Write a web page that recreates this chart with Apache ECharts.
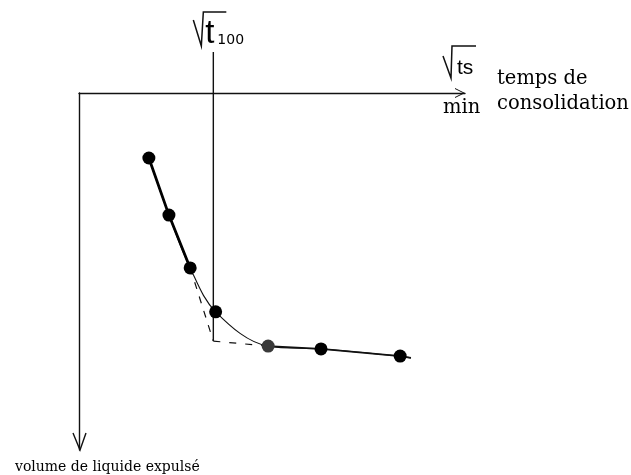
<!DOCTYPE html>
<html>
<head>
<meta charset="utf-8">
<script src="https://cdn.jsdelivr.net/npm/echarts@6/dist/echarts.min.js"></script>
<style>
  html, body { margin: 0; padding: 0; background: #fff; }
  #chart { width: 631px; height: 475px; }
</style>
</head>
<body>
<div id="chart"></div>
<script>
// Consolidation curve: expelled liquid volume against the square root of time
const sqrtTime = [1.81, 2.33, 2.88, 3.54, 4.90, 6.27, 8.32];   // √t readings
const volume   = [1.82, 3.42, 4.90, 6.13, 7.09, 7.17, 7.37];   // expelled volume
const curveTail = [8.60, 7.42];     // the hand-drawn curve runs a little past the last reading
const sqrtT100 = 3.48;              // √t100
const v100 = 6.95;                  // meeting point of the tangent and the final slope
const t100LineTop = -1.15;          // √t100 line rises above the time axis

// Text
const timeRoot = 'ts';
const timeUnit = 'min';
const timeTitle = ['temps de', 'consolidation'];
const volumeTitle = 'volume de liquide expulsé';
const t100Root = 't';
const t100Index = '100';

const INK = '#111';
const chart = echarts.init(document.getElementById('chart'), null, { renderer: 'canvas' });

const points = sqrtTime.map((x, i) => [x, volume[i]]);
const chevron = 'path://M0,20 L10,0 L20,20 L18,20 L10,4 L2,20 Z';

const option = {
  animation: false,
  backgroundColor: '#fff',
  grid: { left: 79, right: 166, top: 93, bottom: 25 },
  xAxis: {
    type: 'value', position: 'top', min: 0, max: 10,
    axisLine: {
      show: true, onZero: false,
      lineStyle: { color: INK, width: 1.4 },
      symbol: ['none', chevron], symbolSize: [13, 10], symbolOffset: [0, -5]
    },
    axisTick: { show: false }, axisLabel: { show: false }, splitLine: { show: false }
  },
  yAxis: {
    type: 'value', inverse: true, min: 0, max: 10,
    axisLine: { show: true, onZero: false, lineStyle: { color: INK, width: 1.4 } },
    axisTick: { show: false }, axisLabel: { show: false }, splitLine: { show: false }
  },
  series: [
    { // smooth curve through every reading
      type: 'line', smooth: 0.35, symbol: 'none',
      lineStyle: { color: INK, width: 1.1 },
      data: points.concat([curveTail])
    },
    { // steep initial straight part
      type: 'line', symbol: 'none',
      lineStyle: { color: '#000', width: 2.8 },
      data: points.slice(0, 3)
    },
    { // final slope
      type: 'line', symbol: 'none',
      lineStyle: { color: INK, width: 1.8 },
      data: points.slice(4).concat([curveTail])
    },
    { // tangent prolonged down to √t100
      type: 'line', symbol: 'none',
      lineStyle: { color: INK, width: 1.2, type: [7, 8] },
      data: [points[2], [sqrtT100, v100]]
    },
    { // final slope prolonged back to √t100
      type: 'line', symbol: 'none',
      lineStyle: { color: INK, width: 1.2, type: [7, 9] },
      data: [[sqrtT100, v100], points[4]]
    },
    { // √t100 vertical
      type: 'line', symbol: 'none', clip: false,
      lineStyle: { color: INK, width: 1.4 },
      data: [[sqrtT100, t100LineTop], [sqrtT100, v100]]
    },
    { // readings
      type: 'scatter', symbol: 'circle', symbolSize: 13, z: 5,
      itemStyle: { opacity: 1, color: p => (p.dataIndex === 4 ? '#3a3a3a' : '#000') },
      data: points
    }
  ]
};
chart.setOption(option);

// Labels and the downward arrow of the volume axis
const [lx] = chart.convertToPixel({ gridIndex: 0 }, [sqrtT100, 0]);
const [ax, ay] = chart.convertToPixel({ gridIndex: 0 }, [0, 10]);
const serif = '"DejaVu Serif", serif';
const txt = (text, x, y, font, extra) => Object.assign({
  type: 'text', silent: true,
  style: { text, x, y, font, fill: '#000', textVerticalAlign: 'middle' }
}, extra || {});
const stroke = (pts, w) => ({
  type: 'polyline', silent: true,
  shape: { points: pts },
  style: { stroke: INK, lineWidth: w || 1.5, fill: null }
});

chart.setOption({
  graphic: [
    stroke([[ax - 6, ay - 17], [ax + 1, ay], [ax + 7, ay - 17]], 1.4),
    stroke([[lx - 20, 20], [lx - 12, 46], [lx - 10, 12], [lx + 13, 12]]),
    txt(t100Root, lx - 8, 34, '33px "Liberation Sans", sans-serif'),
    txt(t100Index, lx + 4, 40, '14px "DejaVu Sans", sans-serif'),
    stroke([[443, 56], [451, 78], [452, 46], [476, 46]]),
    txt(timeRoot, 457, 68, '21px "Liberation Sans", sans-serif'),
    txt(timeUnit, 443, 108, '19.5px ' + serif),
    txt(timeTitle[0], 497, 79, '19.5px ' + serif),
    txt(timeTitle[1], 497, 104, '19.5px ' + serif),
    txt(volumeTitle, 15, 467, '14px ' + serif)
  ]
});
</script>
</body>
</html>
